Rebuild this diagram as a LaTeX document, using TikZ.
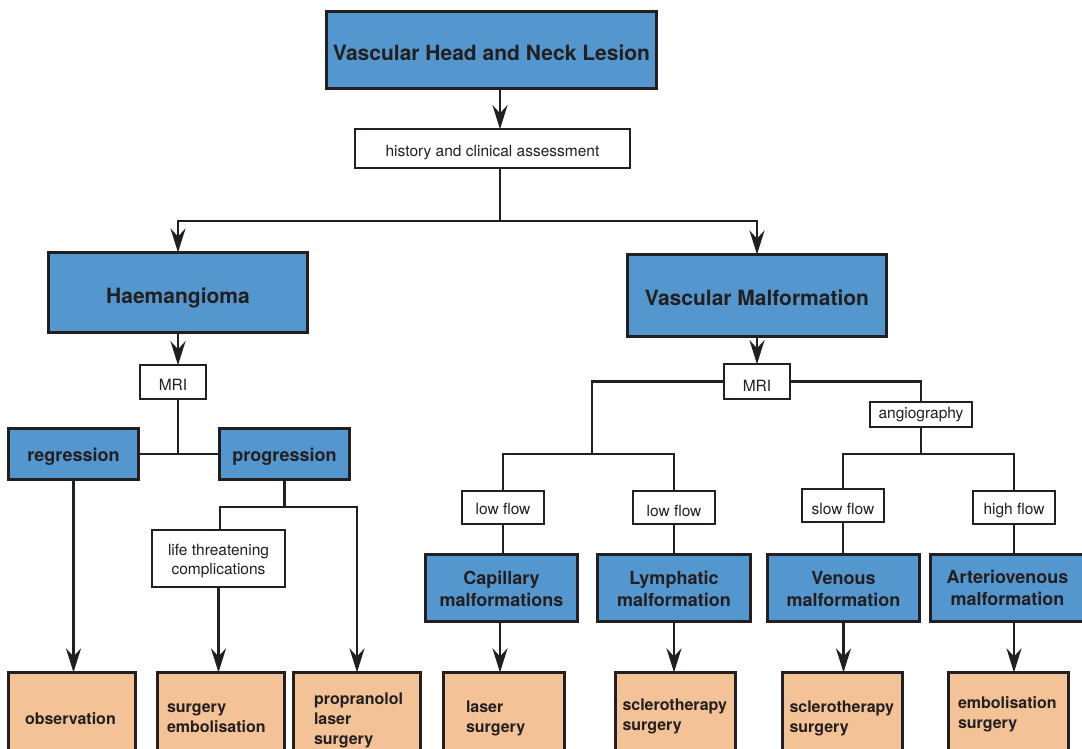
\documentclass[tikz,border=0pt]{standalone}
\usepackage{fontspec}
\setmainfont{TeX Gyre Heros}
\usetikzlibrary{arrows.meta}
\definecolor{boxblue}{RGB}{84,150,206}
\definecolor{boxorange}{RGB}{244,194,151}
\definecolor{ink}{RGB}{35,31,32}

\begin{document}
\begin{tikzpicture}[x=1pt,y=-1pt,
  every node/.style={inner sep=0pt, outer sep=0pt, text=ink},
  bluebox/.style={draw=ink, line width=2.8pt, fill=boxblue, align=center,
    font=\bfseries\fontsize{18}{22}\selectfont},
  bigbox/.style={bluebox, font=\bfseries\fontsize{21}{25}\selectfont},
  notebox/.style={draw=ink, line width=2.4pt, fill=white, align=center,
    font=\fontsize{15.5}{19}\selectfont},
  % baseline placed at (text height)/2 below the node centre
  lowered/.style={text height=#1, text depth=0pt},
  treatbox/.style={draw=ink, line width=2.8pt, fill=boxorange, minimum height=100pt},
  treattext/.style={anchor=west, align=left, font=\bfseries\fontsize{16}{20}\selectfont},
  link/.style={draw=ink, line width=2.6pt},
  arr/.style={link, -{Stealth[length=24pt,width=15pt,inset=8pt]}},
]
\useasboundingbox (0,0) rectangle (1082,749);
\clip (0,0) rectangle (1082,749);

% ---- top of the tree
\node[bigbox, lowered=22pt, minimum width=330pt, minimum height=77pt] (top) at (491.5,50) {Vascular Head and Neck Lesion};
\node[notebox, lowered=16.4pt, minimum width=274.6pt, minimum height=38.6pt] (hist) at (492.5,148.5) {history and clinical assessment};
\node[bigbox, lowered=21pt, minimum width=259pt, minimum height=80pt] (haem) at (178,292.5) {Haemangioma};
\node[bigbox, lowered=20pt, minimum width=259pt, minimum height=82pt] (vm) at (757,295.5) {Vascular Malformation};

% ---- haemangioma branch
\node[notebox, lowered=17.4pt, minimum width=65.6pt, minimum height=33.6pt] (mri1) at (173,382) {MRI};
\node[bluebox, lowered=15.4pt, minimum width=130pt, minimum height=51pt] (regr) at (73.5,454) {regression};
\node[bluebox, lowered=15.4pt, minimum width=130pt, minimum height=51pt] (prog) at (284.5,454) {progression};
\node[notebox, minimum width=132.6pt, minimum height=56.6pt] (life) at (218.5,558.5) {\rule{0pt}{17pt}life threatening\\complications};

% ---- malformation branch
\node[notebox, lowered=19pt, minimum width=65.6pt, minimum height=34.6pt] (mri2) at (757,381.5) {MRI};
\node[notebox, minimum width=101.6pt, minimum height=24.6pt] (ang) at (921,414.5) {angiography};
\node[notebox, lowered=13pt, minimum width=81.6pt, minimum height=32.6pt] (lf1) at (503,507.5) {low flow};
\node[notebox, lowered=18pt, minimum width=81.6pt, minimum height=32.6pt] (lf2) at (674,507.5) {low flow};
\node[notebox, lowered=17pt, minimum width=81.6pt, minimum height=32.6pt] (sf) at (843,505.5) {slow flow};
\node[notebox, lowered=13pt, minimum width=81.6pt, minimum height=32.6pt] (hf) at (1014,507.5) {high flow};
\node[bluebox, minimum width=152pt, minimum height=67pt] (cap) at (501.5,588) {\rule{0pt}{15pt}Capillary\\malformations};
\node[bluebox, minimum width=153pt, minimum height=67pt] (lym) at (674,588) {\rule{0pt}{15pt}Lymphatic\\malformation};
\node[bluebox, minimum width=152pt, minimum height=67pt] (ven) at (843.5,588) {\rule{0pt}{15pt}Venous\\malformation};
\node[bluebox, minimum width=154pt, minimum height=67pt] (av) at (1007.5,588) {Arteriovenous\\malformation};

% ---- treatment boxes
\node[treatbox, minimum width=127pt] (obs) at (72,722.4) {};
\node[treatbox, minimum width=127pt] (seb) at (221,722.4) {};
\node[treatbox, minimum width=127pt] (prop) at (357,722.4) {};
\node[treatbox, minimum width=121pt] (laser) at (504,722.4) {};
\node[treatbox, minimum width=120pt] (scl1) at (675.5,722.4) {};
\node[treatbox, minimum width=120pt] (scl2) at (842.5,722.4) {};
\node[treatbox, minimum width=120pt] (emb) at (1008.5,722.4) {};
\node[treattext] (obs-t) at (25,718.5) {observation};
\node[treattext] (seb-t) at (167,718) {surgery\\embolisation};
\node[treattext] (prop-t) at (314,720.5) {propranolol\\laser\\surgery};
\node[treattext] (laser-t) at (466,718.5) {laser\\surgery};
\node[treattext] (scl1-t) at (622.5,716) {sclerotherapy\\surgery};
\node[treattext] (scl2-t) at (789.5,718) {sclerotherapy\\surgery};
\node[treattext] (emb-t) at (958,714) {embolisation\\surgery};

% ---- junction points
\coordinate (split) at (500,221);
\coordinate (hm) at (178,454);
\coordinate (pl) at (220,507);
\coordinate (pr) at (357,507);
\coordinate (lj) at (592,454);
\coordinate (aj) at (921,454);

% ---- connectors
\draw[arr] (top.south -| split) -- (hist.north -| split);
\draw[link] (hist.south -| split) -- (split);
\draw[arr] (split) -| (haem.north);
\draw[arr] (split) -| (vm.north);

\draw[arr] (haem.south -| hm) -- (mri1.north -| hm);
\draw[link] (mri1.south -| hm) -- (hm);
\draw[link] (regr.east) -- (prog.west);
\draw[arr] (regr.south) -- (regr.south |- obs.north);
\draw[link] (prog.south) -- (prog.south |- pl);
\draw[arr] (life.north -| pl) -- (pl) -- (pr) -- (prop.north);
\draw[arr] (life.south) -- (life.south |- seb.north);

\draw[arr] (vm.south) -- (mri2.north);
\draw[link] (mri2.west) -| (lj);
\draw[link] (lf1.north) -- (lf1.north |- lj) -| (lf2.north);
\draw[link] (mri2.east) -| (ang.north);
\draw[link] (ang.south) -- (aj);
\draw[link] (sf.north) -- (sf.north |- aj) -| (hf.north);
\draw[link] (lf1.south) -- (lf1.south |- cap.north);
\draw[link] (lf2.south) -- (lf2.south |- lym.north);
\draw[link] (sf.south) -- (sf.south |- ven.north);
\draw[link] (hf.south) -- (hf.south |- av.north);
\draw[arr] (cap.south -| split) -- (laser.north -| split);
\draw[arr] (lym.south) -- (lym.south |- scl1.north);
\draw[arr] (ven.south) -- (ven.south |- scl2.north);
\draw[arr] (hf.south |- av.south) -- (hf.south |- emb.north);
\end{tikzpicture}
\end{document}
